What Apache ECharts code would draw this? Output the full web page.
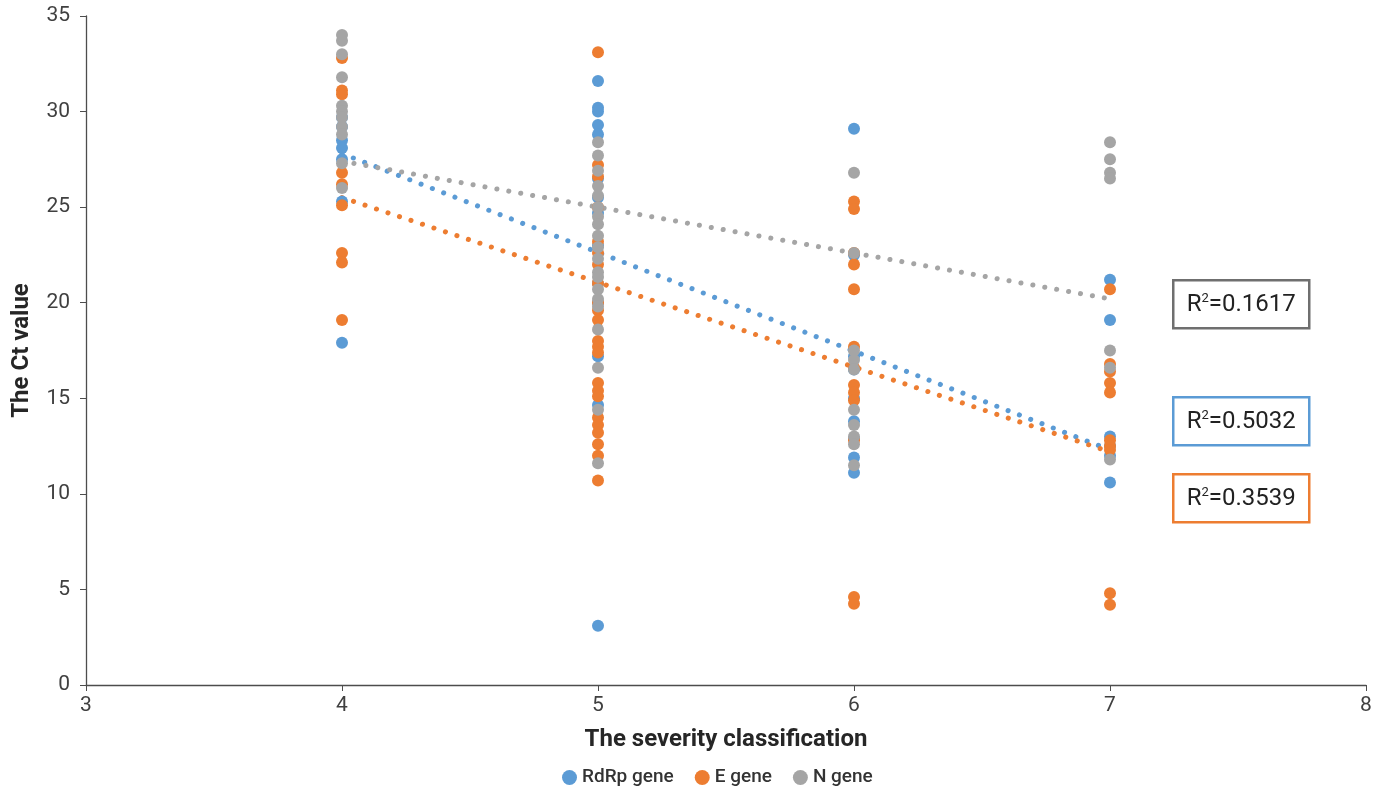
<!DOCTYPE html>
<html>
<head>
<meta charset="utf-8">
<script src="https://cdn.jsdelivr.net/npm/echarts@6/dist/echarts.min.js"></script>
<style>
html,body{margin:0;padding:0;background:#fff;}
#chart{width:1386px;height:789px;}
</style>
</head>
<body>
<div id="chart"></div>
<script>
// Data: [severity classification, Ct value]
var rdrpData = [
  [4,29.7],[4,29.2],[4,28.5],[4,28.1],[4,27.5],[4,25.3],[4,17.9],
  [5,31.6],[5,30.2],[5,30.0],[5,29.3],[5,28.8],[5,26.5],[5,25.5],[5,24.7],[5,23.0],[5,21.0],[5,20.0],[5,17.2],[5,14.65],[5,3.1],
  [6,29.1],[6,22.5],[6,17.2],[6,16.5],[6,15.0],[6,13.8],[6,12.9],[6,11.9],[6,11.1],
  [7,21.2],[7,19.1],[7,13.0],[7,12.5],[7,12.0],[7,10.6]
];
var eData = [
  [4,32.8],[4,31.1],[4,30.9],[4,26.8],[4,26.2],[4,25.1],[4,22.6],[4,22.1],[4,19.1],
  [5,33.1],[5,27.2],[5,26.6],[5,25.0],[5,23.2],[5,22.6],[5,22.0],[5,21.0],[5,20.0],[5,19.6],[5,19.1],[5,18.0],[5,17.7],[5,17.4],[5,15.8],[5,15.4],[5,15.1],[5,14.0],[5,13.6],[5,13.2],[5,12.6],[5,12.0],[5,10.7],
  [6,25.3],[6,24.9],[6,22.6],[6,22.0],[6,20.7],[6,17.7],[6,16.6],[6,15.7],[6,15.3],[6,14.9],[6,12.8],[6,4.6],[6,4.25],
  [7,20.7],[7,16.8],[7,16.4],[7,15.8],[7,15.3],[7,12.8],[7,12.5],[7,12.3],[7,4.8],[7,4.2]
];
var nData = [
  [4,34.0],[4,33.7],[4,33.0],[4,31.8],[4,30.3],[4,30.0],[4,29.7],[4,29.2],[4,28.8],[4,27.3],[4,26.0],
  [5,28.4],[5,27.7],[5,26.9],[5,26.1],[5,25.6],[5,25.0],[5,24.5],[5,24.1],[5,23.5],[5,22.9],[5,22.3],[5,21.6],[5,21.35],[5,20.7],[5,20.2],[5,19.8],[5,18.6],[5,16.6],[5,14.4],[5,11.6],
  [6,26.8],[6,22.6],[6,17.5],[6,17.0],[6,16.5],[6,14.4],[6,13.6],[6,13.0],[6,12.6],[6,11.5],
  [7,28.4],[7,27.5],[7,26.8],[7,26.5],[7,17.5],[7,16.6],[7,11.8]
];
// Linear trend lines (start at severity 4, end at severity 7)
var rdrpTrend = [[4,27.8],[7,12.3]];
var eTrend = [[4,25.5],[7,12.2]];
var nTrend = [[4,27.4],[7,20.2]];
var seriesNames = ['RdRp gene','E gene','N gene'];
var r2Labels = ['0.5032','0.3539','0.1617'];
var xTicks = [3,4,5,6,7,8];
var yTicks = [0,5,10,15,20,25,30,35];

var colors = ['#5B9BD5','#ED7D31','#A5A5A5'];
var FONT = 'Roboto, "Noto Sans", sans-serif';
var chart = echarts.init(document.getElementById('chart'));

function trend(name, data, color){
  return {
    name: name, type: 'line', data: data, symbol: 'none', silent: true,
    z: 1,
    lineStyle: {color: color, width: 5, type: [0.1, 12], cap: 'round'}
  };
}
function scatter(name, data, color, z){
  return {
    name: name, type: 'scatter', data: data, symbolSize: 12, z: z,
    itemStyle: {color: color, opacity: 1}
  };
}

function box(x, y, text, color){
  return {
    type: 'group', left: x, top: y,
    children: [
      {type: 'rect', shape: {x: 0, y: 0, width: 136, height: 48},
       style: {fill: '#fff', stroke: color, lineWidth: 2.5}},
      {type: 'text', x: 68, y: 25,
       style: {text: 'R{s|2}=' + text, fill: '#222', font: '24px ' + FONT,
               align: 'center', verticalAlign: 'middle',
               rich: {s: {fontSize: 13, verticalAlign: 'top', padding:[0,0,14,0], fill:'#222', fontFamily: FONT}}}}
    ]
  };
}

chart.setOption({
  animation: false,
  textStyle: {fontFamily: FONT},
  color: colors,
  grid: {left: 86, right: 20, top: 16, bottom: 104, containLabel: false, outerBoundsMode: 'none'},
  xAxis: {
    type: 'value', min: xTicks[0], max: xTicks[xTicks.length-1], interval: 1,
    name: 'The severity classification', nameLocation: 'middle', nameGap: 43,
    nameTextStyle: {fontSize: 24, fontWeight: 'bold', color: '#262626', fontFamily: FONT},
    axisLine: {lineStyle: {color: '#4d4d4d', width: 1.3}},
    axisTick: {show: true, length: 6, lineStyle: {color: '#4d4d4d'}},
    axisLabel: {fontSize: 21, color: '#404040', margin: 10},
    splitLine: {show: false}
  },
  yAxis: {
    type: 'value', min: yTicks[0], max: yTicks[yTicks.length-1], interval: 5,
    name: 'The Ct value', nameLocation: 'middle', nameGap: 52, nameRotate: 90,
    nameTextStyle: {fontSize: 24, fontWeight: 'bold', color: '#262626', fontFamily: FONT},
    axisLine: {show: true, lineStyle: {color: '#4d4d4d', width: 1.3}},
    axisTick: {show: true, length: 6, lineStyle: {color: '#4d4d4d'}},
    axisLabel: {fontSize: 21, color: '#404040', margin: 16},
    splitLine: {show: false}
  },
  legend: {
    data: seriesNames, top: 763, left: 557, icon: 'circle',
    itemWidth: 15, itemHeight: 15, itemGap: 21,
    textStyle: {fontSize: 19, fontWeight: 500, color: '#333', fontFamily: FONT}
  },
  series: [
    trend('RdRp trend', rdrpTrend, colors[0]),
    trend('E trend', eTrend, colors[1]),
    trend('N trend', nTrend, colors[2]),
    scatter(seriesNames[0], rdrpData, colors[0], 2),
    scatter(seriesNames[1], eData, colors[1], 3),
    scatter(seriesNames[2], nData, colors[2], 4)
  ],
  graphic: [
    box(1172, 279, r2Labels[2], '#6f6f6f'),
    box(1172, 396, r2Labels[0], colors[0]),
    box(1172, 473, r2Labels[1], colors[1])
  ]
});
</script>
</body>
</html>
